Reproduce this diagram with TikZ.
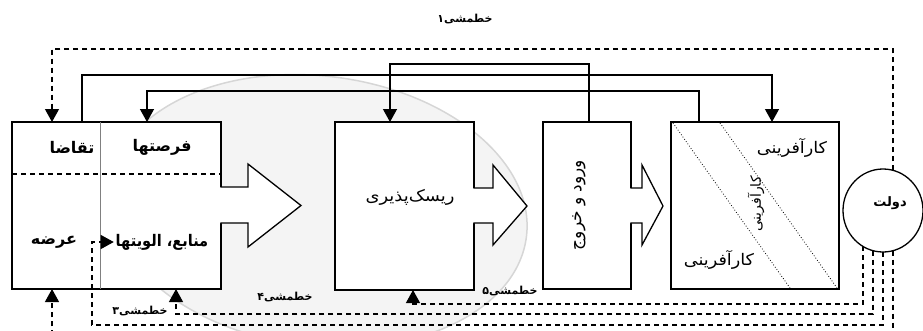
\documentclass[tikz,border=0pt]{standalone}
\usepackage{fontspec}
\newfontfamily\fa[Script=Arabic]{DejaVu Sans}
\TeXXeTstate=1
\usetikzlibrary{arrows.meta,shapes.geometric}
\definecolor{ellfill}{HTML}{F4F4F4}
\definecolor{elldraw}{HTML}{D6D6D6}
\begin{document}
\begin{tikzpicture}[x=1pt,y=-1pt,
  every node/.style={inner sep=0pt,outer sep=0pt},
  blk/.style={draw,line width=1.3pt,fill=white,rectangle},
  ln/.style={draw,line width=1.3pt},
  pol/.style={draw,line width=1.2pt,dash pattern=on 5pt off 4pt},
  tip/.style={-{Triangle[length=13pt,width=14pt]}},
  arw/.style={draw,line width=1.3pt},
  tb/.style={font=\fa\bfseries\fontsize{16}{18}\selectfont},
  tr/.style={font=\fa\fontsize{16}{18}\selectfont},
  lab/.style={font=\fa\bfseries\fontsize{11}{13}\selectfont},
]
\useasboundingbox (0,0) rectangle (923,330);
\clip (0,0) rectangle (923,330);
% background ellipse
\path[fill=ellfill,draw=elldraw,line width=1.5pt,rotate around={-7:(318,211)}] (318,211) ellipse [x radius=210,y radius=135];
% boxes
\node[blk,minimum width=209pt,minimum height=167pt] (L) at (116.5,205.5) {};
\node[blk,minimum width=139pt,minimum height=168pt] (R) at (404.5,206) {};
\node[blk,minimum width=88pt,minimum height=167pt] (V) at (587,205.5) {};
\node[blk,minimum width=168pt,minimum height=167pt] (K) at (755,205.5) {};
\node[draw,line width=1.3pt,fill=white,ellipse,minimum width=80pt,minimum height=83pt] (D) at (883,210.5) {};
% block arrows
\path[fill=white] (219,187) -- (248,187) -- (248,164) -- (301,205.5) -- (248,247) -- (248,223) -- (219,223) -- cycle;
\draw[arw] (220.4,187) -- (248,187) -- (248,164) -- (301,205.5) -- (248,247) -- (248,223) -- (220.4,223);
\path[fill=white] (472,188) -- (493,188) -- (493,165) -- (527,206) -- (493,245) -- (493,223) -- (472,223) -- cycle;
\draw[arw] (473.4,188) -- (493,188) -- (493,165) -- (527,206) -- (493,245) -- (493,223) -- (473.4,223);
\path[fill=white] (629,188) -- (642,188) -- (642,165) -- (663,206) -- (642,245) -- (642,223) -- (629,223) -- cycle;
\draw[arw] (630.4,188) -- (642,188) -- (642,165) -- (663,206) -- (642,245) -- (642,223) -- (630.4,223);
% inner lines of left box
\coordinate (hy) at (0,174);
\coordinate (vx) at (100,0);
\draw[gray,line width=0.7pt] (L.north -| vx) -- (L.south -| vx);
\draw[pol] (L.west |- hy) -- (L.east |- hy);
% diagonals in K
\draw[line width=0.8pt,dotted] (673,123) -- (790,288);
\draw[line width=0.8pt,dotted] (720,123) -- (837,288);
% texts
\node[tb] at (72,147) {\beginR تقاضا\endR};
\node[tb] at (162,147) {\beginR فرصتها\endR};
\node[tb] at (54,242) {\beginR عرضه\endR};
\node[tb] (M) at (162,242) {\scalebox{0.91}[1]{\beginR منابع، الویتها\endR}};
\node[tr] at (410,197) {\scalebox{1.12}[1]{\beginR ریسک^^^^200cپذیری\endR}};
\node[tr,rotate=90,font=\fa\fontsize{17}{19}\selectfont] at (579,205) {\beginR ورود و خروج\endR};
\node[tr] at (792,148) {\scalebox{1.1}[1]{\beginR کارآفرینی\endR}};
\node[tr] at (719,260) {\scalebox{1.1}[1]{\beginR کارآفرینی\endR}};
\node[tr,rotate=90,font=\fa\fontsize{14}{16}\selectfont] at (756,204) {\beginR کارآفرینی\endR};
\node[tb,font=\fa\bfseries\fontsize{13}{15}\selectfont] at (890,203) {\beginR دولت\endR};
% connectors (solid)
\coordinate (c2) at (82,75); \coordinate (c2b) at (772,75);
\draw[ln,tip] (L.north -| c2) -- (c2) -- (c2b) -- (K.north -| c2b);
\coordinate (c3) at (699,91); \coordinate (c3b) at (147,91);
\draw[ln,tip] (K.north -| c3) -- (c3) -- (c3b) -- (L.north -| c3b);
\coordinate (c4) at (589,64); \coordinate (c4b) at (390,64);
\draw[ln,tip] (V.north -| c4) -- (c4) -- (c4b) -- (R.north -| c4b);
% policy connectors (dashed)
\coordinate (c1) at (52,49);
\draw[pol,tip] (D.76) |- (c1) -- (L.north -| c1);
\coordinate (p5) at (413,304);
\draw[pol,tip] (D.241) |- (p5) -- (R.south -| p5);
\coordinate (p4) at (176,314);
\draw[pol,tip] (D.256) |- (p4) -- (L.south -| p4);
\coordinate (p3) at (92,325);
\draw[pol,tip,shorten >=2pt] (D.south) |- (p3) -- (p3 |- M.west) -- (M.west);
\coordinate (p2) at (52,345);
\draw[pol,tip] (D.284) |- (p2) -- (L.south -| p2);
% policy labels
\node[lab] at (465,19) {\beginR خطمشی۱\endR};
\node[lab] at (510,291) {\beginR خطمشی۵\endR};
\node[lab] at (285,297) {\beginR خطمشی۴\endR};
\node[lab] at (140,311) {\beginR خطمشی۳\endR};
\end{tikzpicture}
\end{document}
